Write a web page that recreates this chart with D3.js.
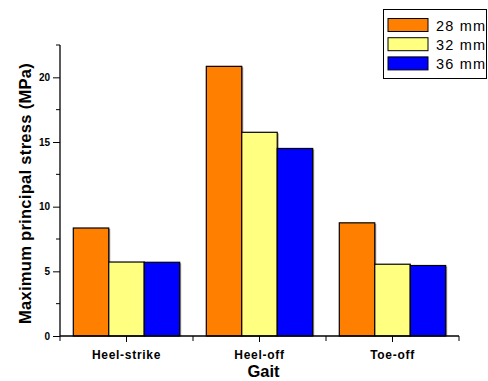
<!DOCTYPE html>
<html>
<head>
<meta charset="utf-8">
<script src="https://cdn.jsdelivr.net/npm/d3@7"></script>
<style>
  body { margin: 0; background: #fff; }
  text { font-family: "Liberation Sans", Arial, sans-serif; }
</style>
</head>
<body>
<div id="chart"></div>
<script>
// data
let gaits = ["Heel-strike", "Heel-off", "Toe-off"];
let sizes = ["28 mm", "32 mm", "36 mm"];
let stress28 = [8.35, 20.85, 8.75];
let stress32 = [5.72, 15.75, 5.55];
let stress36 = [5.70, 14.50, 5.45];
let yTicks = [0, 5, 10, 15, 20];
let colors = ["#FF8000", "#FFFF80", "#0000FF"];

let series = [stress28, stress32, stress36];

let svg = d3.select("#chart").append("svg")
  .attr("width", 488)
  .attr("height", 381);

let plot = { left: 60, right: 459, top: 45, bottom: 336 };

let x0 = d3.scaleBand().domain(gaits).range([plot.left, plot.right])
  .paddingInner(0.2).paddingOuter(0.1);
let x1 = d3.scaleBand().domain(sizes).range([0, x0.bandwidth()]);
let y = d3.scaleLinear().domain([0, 22.5]).range([plot.bottom, plot.top]);

// bars
let groups = svg.selectAll("g.grp")
  .data(gaits).enter().append("g")
  .attr("class", "grp")
  .attr("transform", d => `translate(${x0(d)},0)`);

groups.selectAll("g.bar")
  .data((g, i) => sizes.map((s, k) => ({ size: s, value: series[k][i], color: colors[k] })))
  .enter().append("g").attr("class", "bar")
  .each(function(d) {
    let g = d3.select(this);
    // slight shadow on the right edge
    g.append("rect")
      .attr("x", x1(d.size) + 1.5)
      .attr("y", y(d.value) + 1)
      .attr("width", x1.bandwidth())
      .attr("height", plot.bottom - y(d.value) - 1)
      .attr("fill", "#6b5a4a")
      .attr("opacity", 0.6);
    g.append("rect")
      .attr("x", x1(d.size))
      .attr("y", y(d.value))
      .attr("width", x1.bandwidth())
      .attr("height", plot.bottom - y(d.value))
      .attr("fill", d.color)
      .attr("stroke", "#000")
      .attr("stroke-width", 1.2);
  });

// y axis
let yAx = svg.append("g")
  .attr("transform", `translate(${plot.left},0)`)
  .call(d3.axisLeft(y).tickValues(yTicks).tickSize(7).tickPadding(3));
yAx.select(".domain").attr("d", `M0,${plot.top}V${plot.bottom}`).attr("stroke-width", 1.3);
yAx.selectAll("text").attr("font-size", 10).attr("font-weight", "bold")
  .attr("font-family", "Liberation Sans, Arial, sans-serif");

svg.append("g").selectAll("line")
  .data([2.5, 7.5, 12.5, 17.5, 22.5]).enter().append("line")
  .attr("x1", plot.left - 4).attr("x2", plot.left)
  .attr("y1", d => y(d)).attr("y2", d => y(d))
  .attr("stroke", "#000");

// x axis
let xAx = svg.append("g")
  .attr("transform", `translate(0,${plot.bottom})`)
  .call(d3.axisBottom(x0).tickSize(6).tickPadding(8));
xAx.select(".domain").attr("d", `M${plot.left},0H${plot.right}`).attr("stroke-width", 1.3);
xAx.selectAll("text").attr("font-size", 12).attr("font-weight", "bold")
  .attr("letter-spacing", 0.7)
  .attr("font-family", "Liberation Sans, Arial, sans-serif");

let edges = [plot.left].concat(gaits.map(g => x0(g) + x0.bandwidth() + (x0.step() - x0.bandwidth()) / 2));
svg.append("g").selectAll("line")
  .data(edges).enter().append("line")
  .attr("x1", d => d).attr("x2", d => d)
  .attr("y1", plot.bottom).attr("y2", plot.bottom + 5)
  .attr("stroke", "#000");

// axis titles
svg.append("text")
  .attr("x", x0("Heel-off") + x0.bandwidth() / 2 + 4)
  .attr("y", 377)
  .attr("text-anchor", "middle")
  .attr("font-size", 16.5)
  .attr("font-weight", "bold")
  .text("Gait");

svg.append("text")
  .attr("transform", `translate(31,${(plot.top + plot.bottom) / 2 + 3})rotate(-90)`)
  .attr("text-anchor", "middle")
  .attr("font-size", 16.5)
  .attr("font-weight", "bold")
  .attr("letter-spacing", 0.3)
  .text("Maximum principal stress (MPa)");

// legend
let legend = svg.append("g");
legend.append("rect")
  .attr("x", 383.5).attr("y", 9.5)
  .attr("width", 103).attr("height", 69)
  .attr("fill", "#fff").attr("stroke", "#000");

let items = legend.selectAll("g.item")
  .data(sizes).enter().append("g").attr("class", "item")
  .attr("transform", (d, i) => `translate(388,${18.5 + i * 19.2})`);
items.append("rect")
  .attr("width", 40).attr("height", 13)
  .attr("fill", (d, i) => colors[i])
  .attr("stroke", "#000");
items.append("text")
  .attr("x", 48).attr("y", 12)
  .attr("font-size", 14.5)
  .attr("letter-spacing", 1.2)
  .text(d => d);
</script>
</body>
</html>
